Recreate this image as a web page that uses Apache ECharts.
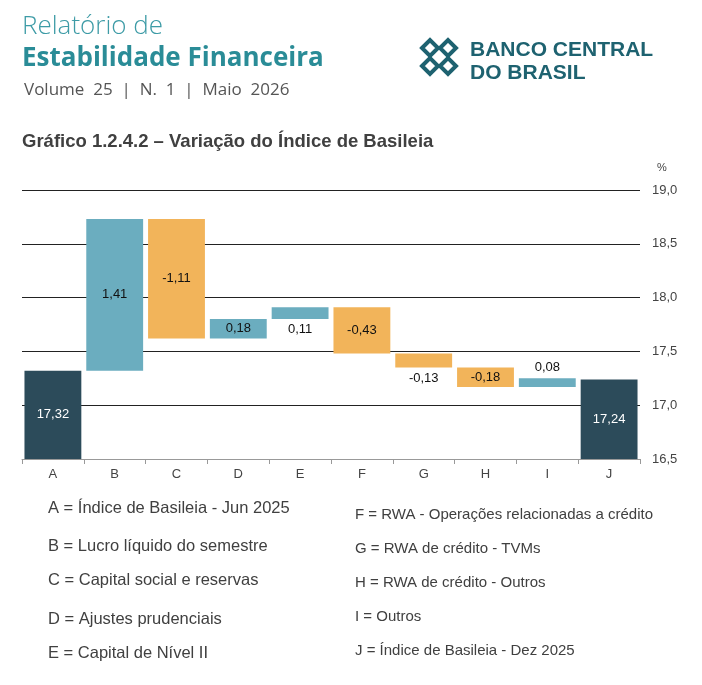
<!DOCTYPE html>
<html><head><meta charset="utf-8">
<script src="https://cdn.jsdelivr.net/npm/echarts@6/dist/echarts.min.js"></script>
<style>html,body{margin:0;padding:0;background:#fff}#c{width:702px;height:685px}</style>
</head><body><div id="c"></div>
<script>
const categories = ['A','B','C','D','E','F','G','H','I','J'];
const deltas = [17.32, 1.41, -1.11, 0.18, 0.11, -0.43, -0.13, -0.18, 0.08, 17.24];
const kinds = ['total','up','down','up','up','down','down','down','up','total'];
const yTicks = [16.5, 17.0, 17.5, 18.0, 18.5, 19.0];
const legendLeft = ['A = Índice de Basileia - Jun 2025','B = Lucro líquido do semestre','C = Capital social e reservas','D = Ajustes prudenciais','E = Capital de Nível II'];
const legendRight = ['F = RWA - Operações relacionadas a crédito','G = RWA de crédito - TVMs','H = RWA de crédito - Outros','I = Outros','J = Índice de Basileia - Dez 2025'];

const colors = {total:'#2c4b5a', up:'#6badbf', down:'#f2b45a'};
const labelPos = ['inside','inside','inside','inside','bottom','inside','bottom','inside','top','inside'];
let cum = 0; const base = [], vis = [];
deltas.forEach((d,i)=>{
  if (kinds[i]==='total'){ base.push(0); vis.push(d); cum = d; }
  else { const nc = cum + d; base.push(Math.min(cum,nc)); vis.push(Math.abs(d)); cum = nc; }
});
const fmt = v => v.toFixed(2).replace('.',',');
const chart = echarts.init(document.getElementById('c'));
const F = 'Liberation Sans, Arial, sans-serif';
const graphic = [
  {type:'text',left:22,top:14,style:{text:'Relatório de',fill:'#3d9ba6',font:'300 26px "Open Sans", sans-serif'}},
  {type:'text',left:22,top:46,style:{text:'Estabilidade Financeira',fill:'#2a8c97',font:'bold 26px "Open Sans", sans-serif'}},
  {type:'text',left:24,top:82,style:{text:'Volume  25  |  N.  1  |  Maio  2026',fill:'#555',font:'17px "Open Sans", sans-serif'}},
  {type:'text',left:470,top:40,style:{text:'BANCO CENTRAL',fill:'#1e6270',font:'bold 21px "Liberation Sans", Arial'}},
  {type:'text',left:470,top:63,style:{text:'DO BRASIL',fill:'#1e6270',font:'bold 21px "Liberation Sans", Arial'}},
  {type:'text',left:22,top:132,style:{text:'Gráfico 1.2.4.2 – Variação do Índice de Basileia',fill:'#404040',font:'bold 18.5px '+F}},
  {type:'text',left:657,top:162,style:{text:'%',fill:'#444',font:'11px '+F}}
];
[[422,40],[440,40],[422,58],[440,58]].forEach(([x,y])=>{
  graphic.push({type:'polygon',shape:{points:[[x,y+8],[x+8,y],[x+16,y+8],[x+8,y+16]]},style:{fill:'none',stroke:'#1e6270',lineWidth:4}});
});
const ly=[510,548,582,621,655], ry=[516,550,584,618,652];
legendLeft.forEach((t,i)=>graphic.push({type:'text',left:48,top:ly[i]-10,style:{text:t,fill:'#404040',font:'16.5px '+F}}));
legendRight.forEach((t,i)=>graphic.push({type:'text',left:355,top:ry[i]-9,style:{text:t,fill:'#404040',font:'15px '+F}}));

chart.setOption({
  animation:false,
  graphic,
  grid:{left:22,right:62,top:190,bottom:226},
  xAxis:{type:'category',data:categories,axisLine:{lineStyle:{color:'#999'}},axisTick:{show:true,lineStyle:{color:'#999'}},axisLabel:{color:'#444',fontFamily:F,fontSize:13,margin:9}},
  yAxis:{type:'value',position:'right',min:16.5,max:19,interval:0.5,axisLine:{show:false},axisTick:{show:false},
    splitLine:{lineStyle:{color:'#222',width:1}},
    axisLabel:{color:'#444',fontFamily:F,fontSize:13,margin:12,formatter:v=>yTicks.includes(v)?v.toFixed(1).replace('.',','):''}},
  series:[
    {type:'bar',stack:'w',data:base,itemStyle:{color:'transparent'},barWidth:'92%',silent:true},
    {type:'bar',stack:'w',barWidth:'92%',data:vis.map((v,i)=>({value:v,itemStyle:{color:colors[kinds[i]]},
      label:{show:true,position:labelPos[i],distance:4,formatter:fmt(deltas[i]),fontFamily:F,fontSize:13,
        color:kinds[i]==='total'?'#fff':'#111'}}))}
  ]
});
</script></body></html>
